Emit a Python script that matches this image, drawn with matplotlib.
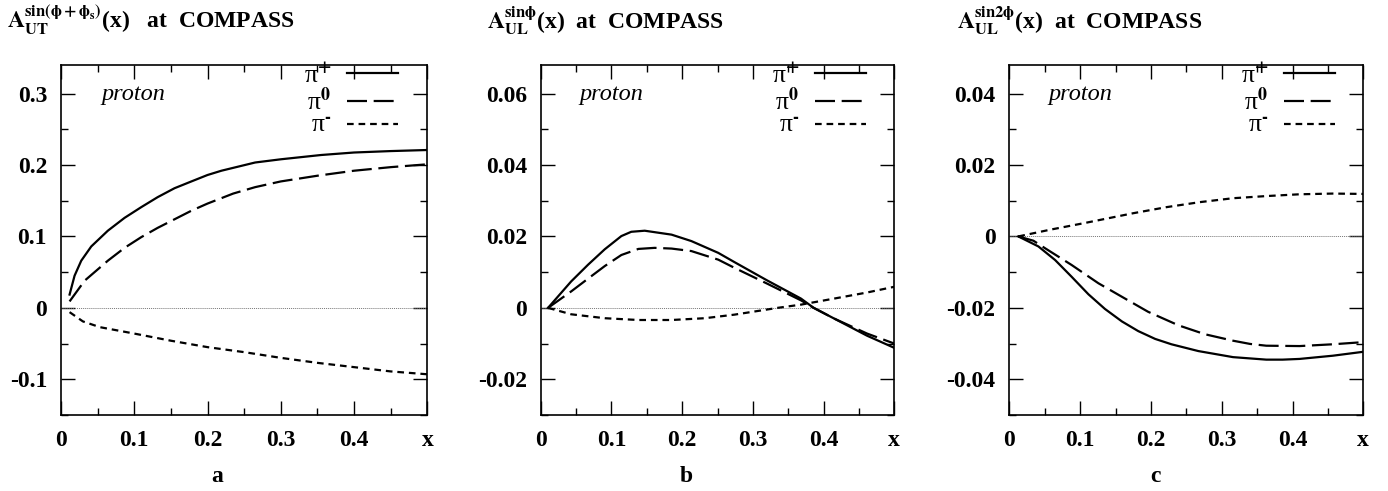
import numpy as np
import matplotlib
matplotlib.use("Agg")
import matplotlib.pyplot as plt
from matplotlib.ticker import MultipleLocator, FixedLocator, FixedFormatter

plt.rcParams['font.family'] = ['Liberation Serif', 'DejaVu Serif']
plt.rcParams['font.weight'] = 'bold'
plt.rcParams['mathtext.fontset'] = 'stix'
plt.rcParams['axes.unicode_minus'] = False

# panel a: A_UT^{sin(phi+phi_s)}
xa_p = [0.0118, 0.0186, 0.0277, 0.0414, 0.064, 0.0868, 0.1096, 0.132, 0.155, 0.178, 0.2,
        0.219, 0.265, 0.3, 0.355, 0.40, 0.45, 0.5]
ya_p = [0.0186, 0.045, 0.066, 0.086, 0.108, 0.126, 0.141, 0.155, 0.1675, 0.177, 0.186,
        0.192, 0.2035, 0.208, 0.214, 0.2175, 0.2195, 0.221]
xa_0 = [0.0118, 0.0323, 0.064, 0.0868, 0.1096, 0.132, 0.155, 0.178, 0.2, 0.235, 0.265,
        0.3, 0.35, 0.4, 0.45, 0.5]
ya_0 = [0.009, 0.038, 0.066, 0.084, 0.099, 0.112, 0.124, 0.136, 0.146, 0.160, 0.169,
        0.177, 0.185, 0.192, 0.197, 0.201]
xa_m = [0.0118, 0.030, 0.053, 0.1, 0.15, 0.2, 0.25, 0.3, 0.35, 0.4, 0.45, 0.5]
ya_m = [-0.006, -0.019, -0.027, -0.036, -0.046, -0.055, -0.062, -0.070, -0.077, -0.083,
        -0.089, -0.093]

# panel b: A_UL^{sin phi}
xb_p = [0.0103, 0.043, 0.067, 0.0905, 0.114, 0.128, 0.147, 0.185, 0.213, 0.251, 0.274,
        0.32, 0.368, 0.386, 0.415, 0.4615, 0.5]
yb_p = [0.0, 0.0074, 0.0121, 0.0164, 0.0201, 0.0213, 0.0216, 0.0205, 0.0187, 0.0154,
        0.0128, 0.0077, 0.0026, 0.0, -0.003, -0.0078, -0.0112]
xb_0 = [0.0103, 0.043, 0.067, 0.0905, 0.114, 0.138, 0.161, 0.185, 0.213, 0.251, 0.274,
        0.32, 0.368, 0.386, 0.415, 0.4615, 0.5]
yb_0 = [0.0, 0.0046, 0.0082, 0.0117, 0.0148, 0.0165, 0.0168, 0.0166, 0.0159, 0.0135,
        0.0112, 0.0068, 0.0021, 0.0, -0.003, -0.0072, -0.0100]
xb_m = [0.0103, 0.043, 0.0905, 0.138, 0.185, 0.232, 0.274, 0.335, 0.368, 0.415, 0.4615, 0.5]
yb_m = [0.0, -0.0018, -0.0029, -0.0034, -0.0034, -0.0029, -0.0019, 0.0, 0.0009, 0.0026,
        0.0043, 0.0059]

# panel c: A_UL^{sin 2phi}
xc_p = [0.0127, 0.041, 0.0646, 0.088, 0.1117, 0.135, 0.159, 0.182, 0.206, 0.229, 0.267,
        0.316, 0.363, 0.386, 0.41, 0.457, 0.5]
yc_p = [0.0, -0.0028, -0.0066, -0.0113, -0.0162, -0.0203, -0.0238, -0.0265, -0.0287,
        -0.0302, -0.0321, -0.0338, -0.0345, -0.0345, -0.0343, -0.0334, -0.0323]
xc_0 = [0.0127, 0.034, 0.0504, 0.088, 0.1257, 0.159, 0.196, 0.239, 0.2765, 0.316, 0.34,
        0.363, 0.41, 0.457, 0.5]
yc_0 = [0.0, -0.0012, -0.0033, -0.008, -0.0131, -0.0169, -0.0211, -0.0249, -0.0274,
        -0.0292, -0.0301, -0.0306, -0.0307, -0.0302, -0.0296]
xc_m = [0.0127, 0.058, 0.105, 0.175, 0.222, 0.269, 0.316, 0.363, 0.41, 0.457, 0.5]
yc_m = [0.0, 0.0019, 0.0037, 0.0065, 0.0082, 0.0096, 0.0107, 0.0113, 0.0118, 0.0120, 0.0119]

xticks = [0, 0.1, 0.2, 0.3, 0.4, 0.5]
xticklabels = ['0', '0.1', '0.2', '0.3', '0.4', 'x']

titles = [r'$\mathbf{A}_{\mathbf{UT}}^{\mathbf{sin(\phi+\phi_s)}}$(x)   at  COMPASS',
          r'$\mathbf{A}_{\mathbf{UL}}^{\mathbf{sin\phi}}$(x)  at  COMPASS',
          r'$\mathbf{A}_{\mathbf{UL}}^{\mathbf{sin2\phi}}$(x)  at  COMPASS']
panel_names = ['a', 'b', 'c']
labels = [r'π$^{\mathbf{+}}$', r'π$^{\mathbf{0}}$', 'π$^{\mathbf{\u2010}}$']

fig = plt.figure(figsize=(13.88, 4.91), dpi=100)
rects = [[0.0439, 0.1548, 0.264, 0.7128],
         [0.3896, 0.1548, 0.2547, 0.7128],
         [0.7272, 0.1548, 0.2550, 0.7128]]
ylims = [(-0.15, 0.34), (-0.03, 0.068), (-0.05, 0.048)]
ymajor = [[-0.1, 0, 0.1, 0.2, 0.3], [-0.02, 0, 0.02, 0.04, 0.06], [-0.04, -0.02, 0, 0.02, 0.04]]
ylabels = [['-0.1', '0', '0.1', '0.2', '0.3'],
           ['-0.02', '0', '0.02', '0.04', '0.06'],
           ['-0.04', '-0.02', '0', '0.02', '0.04']]
yminor = [0.05, 0.01, 0.01]
data = [(xa_p, ya_p, xa_0, ya_0, xa_m, ya_m),
        (xb_p, yb_p, xb_0, yb_0, xb_m, yb_m),
        (xc_p, yc_p, xc_0, yc_0, xc_m, yc_m)]
title_x = [7, 487, 957]
name_x = [217, 686, 1155]

for i in range(3):
    ax = fig.add_axes(rects[i])
    xp, yp, x0, y0, xm, ym = data[i]
    ax.axhline(0, color='#777777', lw=0.7, ls=(0, (1, 1)))
    ax.plot(xp, yp, color='black', lw=1.6, label=labels[0])
    ax.plot(x0, y0, color='black', lw=1.6, ls=(0, (9, 3)), label=labels[1])
    ax.plot(xm, ym, color='black', lw=1.6, ls=(0, (3, 2.2)), label=labels[2])
    ax.set_xlim(0, 0.5)
    ax.set_ylim(*ylims[i])
    ax.xaxis.set_major_locator(FixedLocator(xticks))
    ax.xaxis.set_major_formatter(FixedFormatter(xticklabels))
    ax.xaxis.set_minor_locator(MultipleLocator(0.05))
    ax.yaxis.set_major_locator(FixedLocator(ymajor[i]))
    ax.yaxis.set_major_formatter(FixedFormatter(ylabels[i]))
    ax.yaxis.set_minor_locator(MultipleLocator(yminor[i]))
    ax.tick_params(which='both', direction='in', top=True, right=True, labelsize=17)
    ax.tick_params(which='major', length=10, width=1)
    ax.tick_params(which='minor', length=5, width=1)
    ax.tick_params(axis='x', pad=11)
    ax.tick_params(axis='y', pad=10)
    for s in ax.spines.values():
        s.set_linewidth(1.2)
    ax.text(0.11, 0.9, 'proton', transform=ax.transAxes, fontsize=17.5,
            fontstyle='italic', fontweight='normal', va='baseline')
    ax.legend(loc='upper right', bbox_to_anchor=(0.92, 1.008), frameon=False,
              markerfirst=False, handlelength=2.0, handletextpad=0.6,
              labelspacing=0.0, borderpad=0.0, borderaxespad=0.0,
              prop={'weight': 'normal', 'size': 18.5})
    fig.text(title_x[i] / 1388, 1 - 28 / 491, titles[i], fontsize=17,
             ha='left', va='baseline')
    fig.text(name_x[i] / 1388, 1 - 482 / 491, panel_names[i], fontsize=17,
             ha='center', va='baseline')

fig.savefig('out.png', dpi=100)
